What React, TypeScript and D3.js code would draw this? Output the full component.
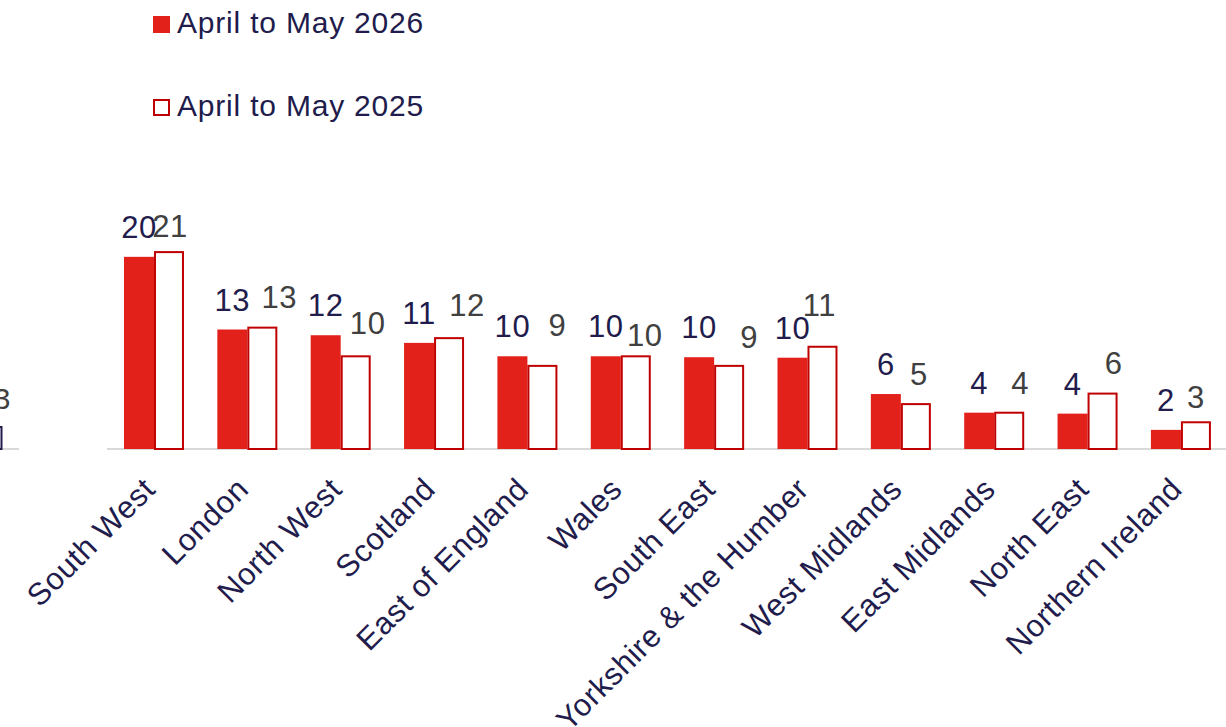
import React from "react";
import * as d3 from "d3";

const categories = [
  "South West",
  "London",
  "North West",
  "Scotland",
  "East of England",
  "Wales",
  "South East",
  "Yorkshire & the Humber",
  "West Midlands",
  "East Midlands",
  "North East",
  "Northern Ireland",
];

const series2026 = [20.1, 12.5, 11.9, 11.1, 9.7, 9.7, 9.6, 9.55, 5.75, 3.8, 3.7, 2.0];
const series2025 = [20.7, 12.8, 9.8, 11.7, 8.8, 9.8, 8.8, 10.8, 4.8, 3.9, 5.9, 2.9];

const legendLabels = ["April to May 2026", "April to May 2025"];

// label nudges for the 2025 series data labels (dx, dy) as in the original layout
const label2025Nudge: [number, number][] = [
  [1, 5], [17, 0], [12, -2], [18, -2], [15, -10], [9, 10],
  [20, 2], [-3, -11], [3, 1], [11, 1], [11, 0], [0, 6],
];

// fragment of a neighbouring chart at the left edge
const fragmentValues = [2.3];
const fragmentLabels = ["3"];

const W = 1226;
const H = 727;
const FONT = "Arial, 'Liberation Sans', sans-serif";
const RED = "#E3211B";
const DARKRED = "#C00000";
const NAVY = "#211C4C";
const GREY = "#404040";

export default function App() {
  const baseY = 449;
  const y = d3.scaleLinear().domain([0, 25]).range([baseY, 210]);
  const x = d3.scaleBand<string>().domain(categories).range([107.3, 1227.6]).padding(0);
  const step = x.bandwidth();
  const inner = d3
    .scaleBand<string>()
    .domain(["2026", "2025"])
    .range([step / 2 - 30, step / 2 + 30])
    .padding(0);
  const bw = inner.bandwidth();

  return (
    <svg
      width={W}
      height={H}
      style={{ position: "absolute", left: 0, top: 0, background: "#fff" }}
      fontFamily={FONT}
    >
      {/* legend */}
      <g>
        <rect x={153} y={16} width={17} height={17} fill={RED} />
        <text x={177} y={33} fontSize={30} fill={NAVY} letterSpacing={0.8}>
          {legendLabels[0]}
        </text>
        <rect x={154} y={100} width={15} height={15} fill="#fff" stroke={DARKRED} strokeWidth={2} />
        <text x={177} y={116} fontSize={30} fill={NAVY} letterSpacing={0.8}>
          {legendLabels[1]}
        </text>
      </g>

      {/* left fragment */}
      <g>
        <line x1={0} x2={19} y1={baseY} y2={baseY} stroke="#D9D9D9" strokeWidth={2} />
        {fragmentValues.map((v, i) => (
          <g key={i}>
            <rect
              x={-30}
              y={y(v)}
              width={31.5}
              height={baseY - y(v)}
              fill="#fff"
              stroke={NAVY}
              strokeWidth={2}
            />
            <text x={2} y={y(v) - 18} fontSize={30} fill={GREY} textAnchor="middle">
              {fragmentLabels[i]}
            </text>
          </g>
        ))}
      </g>

      {/* baseline */}
      <line x1={107} x2={W} y1={baseY} y2={baseY} stroke="#D9D9D9" strokeWidth={2} />

      {/* bars */}
      {categories.map((c, i) => {
        const x0 = x(c)!;
        const xa = x0 + inner("2026")!;
        const xb = x0 + inner("2025")!;
        const v1 = series2026[i];
        const v2 = series2025[i];
        const [ndx, ndy] = label2025Nudge[i];
        return (
          <g key={c}>
            <rect x={xa} y={y(v1)} width={bw} height={baseY - y(v1)} fill={RED} />
            <rect
              x={xb + 1}
              y={y(v2) + 1}
              width={bw - 2}
              height={baseY - y(v2) - 1}
              fill="#fff"
              stroke={DARKRED}
              strokeWidth={2}
            />
            <text
              x={xa + bw / 2}
              y={y(v1) - 19}
              fontSize={31}
              fill={NAVY}
              textAnchor="middle"
              letterSpacing={0.6}
            >
              {Math.round(v1)}
            </text>
            <text
              x={xb + bw / 2 + ndx}
              y={y(v2) - 19 + ndy}
              fontSize={31}
              fill={GREY}
              textAnchor="middle"
              letterSpacing={0.6}
            >
              {Math.round(v2)}
            </text>
          </g>
        );
      })}

      {/* category labels */}
      {categories.map((c) => {
        const cx = x(c)! + step / 2;
        return (
          <text
            key={c}
            transform={`translate(${cx + 3},${baseY + 42}) rotate(-45)`}
            fontSize={31}
            fill={NAVY}
            textAnchor="end"
            letterSpacing={0.6}
          >
            {c}
          </text>
        );
      })}
    </svg>
  );
}
